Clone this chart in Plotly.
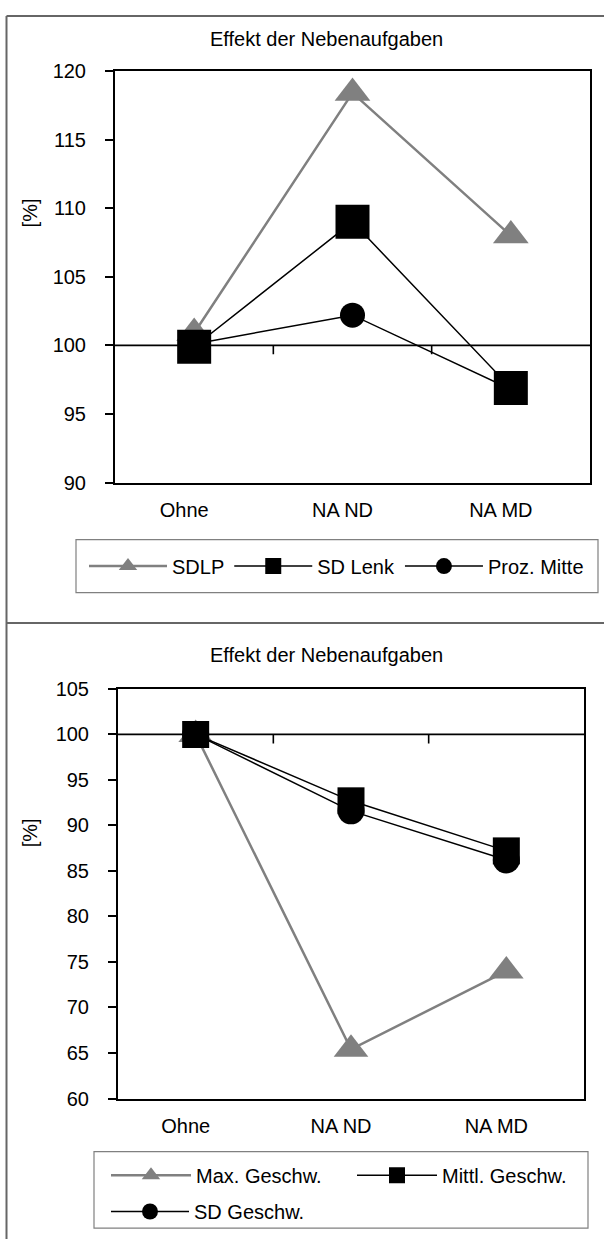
import plotly.graph_objects as go

# Kategorien (Bedingungen)
categories = ["Ohne", "NA ND", "NA MD"]

# Oberes Diagramm: Spurhaltung / Lenkung, relativ zu "Ohne" [%]
sdlp = [100.9, 118.4, 108.0]
sd_lenk = [99.9, 109.0, 96.9]
proz_mitte = [100.1, 102.2, 96.8]

# Unteres Diagramm: Geschwindigkeit, relativ zu "Ohne" [%]
max_geschw = [100.0, 65.4, 74.0]
mittl_geschw = [100.0, 92.7, 87.2]
sd_geschw = [100.0, 91.6, 86.2]

# Achsenbeschriftungen
top_yticks = [90, 95, 100, 105, 110, 115, 120]
bottom_yticks = [60, 65, 70, 75, 80, 85, 90, 95, 100, 105]
title_text = "Effekt der Nebenaufgaben"
ylabel_text = "[%]"
reference_level = 100

W, H = 604, 1250
FONT = "Liberation Sans, Arial, sans-serif"
FS = 20
GRAY = "#808080"
BLACK = "#000000"


def px_x(x):
    return x / W


def px_y(y):
    return 1 - y / H


fig = go.Figure()

# ---- obere Reihen ----
fig.add_trace(go.Scatter(
    x=categories, y=sdlp, name="SDLP", mode="lines+markers",
    line=dict(color=GRAY, width=2.5),
    marker=dict(symbol="triangle-up", size=31, color=GRAY),
    xaxis="x", yaxis="y", legend="legend"))
fig.add_trace(go.Scatter(
    x=categories, y=sd_lenk, name="SD Lenk", mode="lines+markers",
    line=dict(color=BLACK, width=1.5),
    marker=dict(symbol="square", size=34, color=BLACK),
    xaxis="x", yaxis="y", legend="legend"))
fig.add_trace(go.Scatter(
    x=categories, y=proz_mitte, name="Proz. Mitte", mode="lines+markers",
    line=dict(color=BLACK, width=1.5),
    marker=dict(symbol="circle", size=25, color=BLACK),
    xaxis="x", yaxis="y", legend="legend"))

# ---- untere Reihen ----
fig.add_trace(go.Scatter(
    x=categories, y=max_geschw, name="Max. Geschw.", mode="lines+markers",
    line=dict(color=GRAY, width=2.5),
    marker=dict(symbol="triangle-up", size=30, color=GRAY),
    xaxis="x2", yaxis="y2", legend="legend2"))
fig.add_trace(go.Scatter(
    x=categories, y=mittl_geschw, name="Mittl. Geschw.", mode="lines+markers",
    line=dict(color=BLACK, width=1.5),
    marker=dict(symbol="square", size=27, color=BLACK),
    xaxis="x2", yaxis="y2", legend="legend2"))
fig.add_trace(go.Scatter(
    x=categories, y=sd_geschw, name="SD Geschw.", mode="lines+markers",
    line=dict(color=BLACK, width=1.5),
    marker=dict(symbol="circle", size=27, color=BLACK),
    xaxis="x2", yaxis="y2", legend="legend3"))

# Plotflächen in Pixeln (links, rechts, oben, unten)
top_box = (115, 590, 61, 480)
bot_box = (118, 584, 690, 1107)
top_range = (90, 120)
bot_range = (60, 105)


def xaxis_cfg(box, anchor):
    return dict(
        domain=[px_x(box[0]), px_x(box[1])], anchor=anchor,
        type="category", range=[-0.5, 2.5],
        showline=True, mirror=True, linecolor=BLACK, linewidth=2,
        ticks="", showgrid=False, zeroline=False,
        tickfont=dict(family=FONT, size=FS, color=BLACK),
        ticklabelshift=-10, ticklabelstandoff=8,
    )


def yaxis_cfg(box, anchor, yr, tickv):
    return dict(
        domain=[px_y(box[3]), px_y(box[2])], anchor=anchor,
        range=list(yr), tickvals=tickv,
        showline=True, mirror=True, linecolor=BLACK, linewidth=2,
        ticks="outside", ticklen=8, tickwidth=2, tickcolor=BLACK,
        showgrid=False, zeroline=False,
        tickfont=dict(family=FONT, size=FS, color=BLACK),
        ticklabelstandoff=15,
    )


legend_common = dict(
    orientation="h", xanchor="left", yanchor="middle",
    bgcolor="rgba(0,0,0,0)", borderwidth=0,
    font=dict(family=FONT, size=FS, color=BLACK),
    itemsizing="trace", itemclick=False, itemdoubleclick=False,
)

fig.update_layout(
    width=W, height=H, margin=dict(l=0, r=0, t=0, b=0),
    paper_bgcolor="white", plot_bgcolor="white",
    font=dict(family=FONT, size=FS, color=BLACK),
    xaxis=xaxis_cfg(top_box, "y"),
    yaxis=yaxis_cfg(top_box, "x", top_range, top_yticks),
    xaxis2=xaxis_cfg(bot_box, "y2"),
    yaxis2=yaxis_cfg(bot_box, "x2", bot_range, bottom_yticks),
    legend=dict(legend_common, x=px_x(84), y=px_y(565), itemwidth=78),
    legend2=dict(legend_common, x=px_x(106), y=px_y(1185), itemwidth=80,
                 entrywidth=151),
    legend3=dict(legend_common, x=px_x(106), y=px_y(1222), itemwidth=78),
    showlegend=True,
)

# Kategorienachse kreuzt bei 100 %: Linie mit Strichen zwischen den Kategorien
for xr, yr in (("x", "y"), ("x2", "y2")):
    fig.add_shape(type="line", xref=f"{xr} domain", yref=yr,
                  x0=0, x1=1, y0=reference_level, y1=reference_level,
                  line=dict(color=BLACK, width=1.8), layer="below")
    for boundary in (0.5, 1.5):
        fig.add_shape(type="line", xref=xr, yref=yr, ysizemode="pixel",
                      yanchor=reference_level, x0=boundary, x1=boundary,
                      y0=0, y1=-9, line=dict(color=BLACK, width=1.6))

# Titel und Achsenbeschriftung je Diagramm
for ty, ly in ((29, 205), (656, 836)):
    fig.add_annotation(text=title_text, xref="paper", yref="paper",
                       x=px_x(326), y=px_y(ty), showarrow=False,
                       font=dict(family=FONT, size=FS, color=BLACK),
                       xanchor="center", yanchor="middle")
    fig.add_annotation(text=ylabel_text, xref="paper", yref="paper",
                       x=px_x(30), y=px_y(ly), showarrow=False, textangle=-90,
                       font=dict(family=FONT, size=FS, color=BLACK),
                       xanchor="center", yanchor="middle")

# Legendenrahmen
legend_frame = dict(color=GRAY, width=1.2)
fig.add_shape(type="rect", xref="paper", yref="paper",
              x0=px_x(76), x1=px_x(598), y0=px_y(592), y1=px_y(538),
              line=legend_frame, layer="below")
fig.add_shape(type="rect", xref="paper", yref="paper",
              x0=px_x(94), x1=px_x(588), y0=px_y(1239), y1=px_y(1161),
              line=legend_frame, layer="below")

# Rahmen der beiden Diagrammbereiche (links, oben, Trennlinie)
frame = dict(color="#666666", width=2)
fig.add_shape(type="line", xref="paper", yref="paper",
              x0=px_x(6.5), x1=px_x(6.5), y0=0, y1=px_y(5), line=frame)
for yline in (5, 623):
    fig.add_shape(type="line", xref="paper", yref="paper",
                  x0=px_x(6.5), x1=1, y0=px_y(yline), y1=px_y(yline),
                  line=frame)

fig.write_html("out.html")
